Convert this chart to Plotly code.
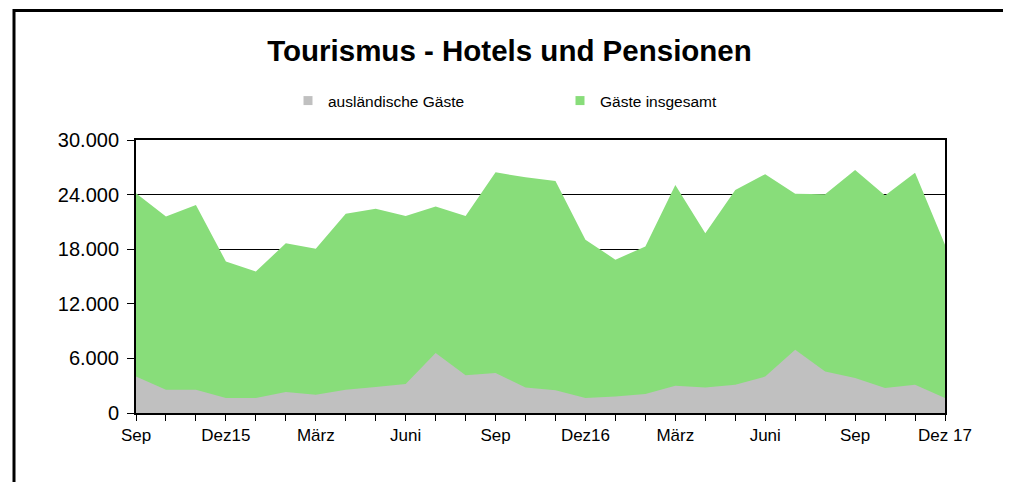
import plotly.graph_objects as go

months = ["Sep 15", "Okt 15", "Nov 15", "Dez 15", "Jan 16", "Feb 16", "Mär 16", "Apr 16",
          "Mai 16", "Jun 16", "Jul 16", "Aug 16", "Sep 16", "Okt 16", "Nov 16", "Dez 16",
          "Jan 17", "Feb 17", "Mär 17", "Apr 17", "Mai 17", "Jun 17", "Jul 17", "Aug 17",
          "Sep 17", "Okt 17", "Nov 17", "Dez 17"]
tick_labels = ["Sep", "", "", "Dez15", "", "", "März", "", "", "Juni", "", "",
               "Sep", "", "", "Dez16", "", "", "März", "", "", "Juni", "", "",
               "Sep", "", "", "Dez 17"]
total = [24150, 21600, 22850, 16650, 15550, 18650, 18050, 21900, 22450, 21650, 22700, 21650,
         26450, 25900, 25500, 19050, 16850, 18300, 25050, 19750, 24500, 26250, 24100, 24050,
         26700, 23900, 26400, 18500]
foreign = [4000, 2550, 2550, 1650, 1650, 2300, 2000, 2550, 2850, 3200, 6600, 4150,
           4400, 2800, 2500, 1650, 1800, 2100, 3000, 2800, 3100, 4000, 6950, 4550,
           3850, 2750, 3100, 1650]
y_ticks = [0, 6000, 12000, 18000, 24000, 30000]

GREEN = "#88DD7A"
GRAY = "#C0C0C0"
FONT = "Liberation Sans, Arial, sans-serif"

# the page body adds an 8px offset; compensate inside the figure
OFF = 8
W, H = 1011 - OFF, 482 - OFF
L, R, T, B = 136 - OFF, 945 - OFF, 140 - OFF, 413 - OFF

fig = go.Figure()
fig.add_trace(go.Scatter(x=months, y=total, mode="lines", fill="tozeroy",
                         line=dict(width=0, color=GREEN), fillcolor=GREEN,
                         showlegend=False, hoverinfo="skip"))
fig.add_trace(go.Scatter(x=months, y=foreign, mode="lines", fill="tozeroy",
                         line=dict(width=0, color=GRAY), fillcolor=GRAY,
                         showlegend=False, hoverinfo="skip"))
# legend entries (square markers)
fig.add_trace(go.Scatter(x=[None], y=[None], mode="markers", name="ausländische Gäste",
                         marker=dict(symbol="square", size=9, color=GRAY)))
fig.add_trace(go.Scatter(x=[None], y=[None], mode="markers", name="Gäste insgesamt",
                         marker=dict(symbol="square", size=9, color=GREEN)))


def px_x(p):
    return (p - OFF - L) / (R - L)


def px_y(p):
    return (B - (p - OFF)) / (B - T)


fig.add_shape(type="rect", xref="paper", yref="paper",
              x0=px_x(14), x1=px_x(1006), y0=px_y(500), y1=px_y(10.5),
              line=dict(color="black", width=3), fillcolor="rgba(0,0,0,0)")

fig.update_layout(
    width=W, height=H,
    margin=dict(l=L, r=W - R, t=T, b=H - B),
    paper_bgcolor="white", plot_bgcolor="white",
    separators=",.",
    font=dict(family=FONT, color="black"),
    title=dict(text="<b>Tourismus - Hotels und Pensionen</b>", x=0.5, xanchor="center",
               y=1 - (51 - OFF) / H, yanchor="middle", font=dict(size=29.5, family=FONT)),
    legend=dict(orientation="h", x=px_x(288), xanchor="left", y=px_y(101), yanchor="middle",
                font=dict(size=15.5, family=FONT), entrywidth=227, entrywidthmode="pixels",
                bgcolor="rgba(0,0,0,0)"),
    xaxis=dict(type="category", range=[0, len(months) - 1], tickmode="array",
               tickvals=months, ticktext=tick_labels, ticks="outside", ticklen=6,
               tickcolor="black", tickwidth=1, showgrid=False, showline=True,
               linecolor="black", linewidth=2, mirror=True,
               tickfont=dict(size=17, family=FONT), tickangle=0),
    yaxis=dict(range=[0, 30000], tickmode="array", tickvals=y_ticks, tickformat=",d",
               ticks="outside", ticklen=7, tickcolor="black", showgrid=True,
               gridcolor="black", gridwidth=1, showline=True, linecolor="black",
               linewidth=2, mirror=True, zeroline=False, ticklabelstandoff=4,
               tickfont=dict(size=20, family=FONT)),
)

fig.write_html("out.html")
